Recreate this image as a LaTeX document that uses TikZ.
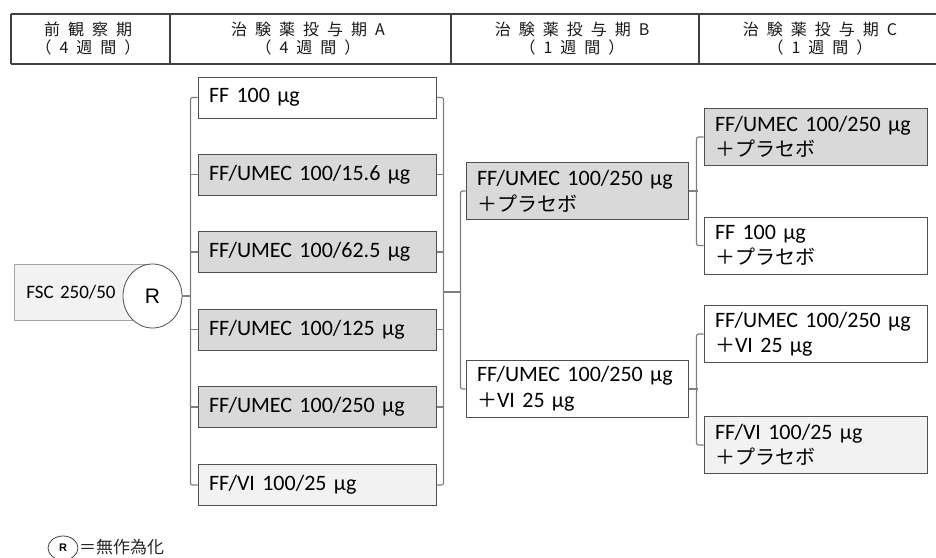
\documentclass[tikz,border=0pt]{standalone}
\usepackage{fontspec}
\usetikzlibrary{shapes.geometric}
\setmainfont{Carlito}
\newfontfamily\cjk{Noto Sans CJK JP}
\newfontfamily\arialf{Liberation Sans}
\newcommand\hsp{\hspace{8pt}}
\definecolor{darkfill}{HTML}{D9D9D9}
\definecolor{lightfill}{HTML}{F2F2F2}
\definecolor{boxline}{HTML}{505050}
\definecolor{brline}{HTML}{7F7F7F}
\definecolor{hline}{HTML}{404040}
\begin{document}
\begin{tikzpicture}[x=1pt,y=-1pt,
  htext/.style={align=center,font=\cjk\fontsize{16}{18}\selectfont,text=black!90,inner sep=0},
  abox/.style={draw=boxline,line width=1pt,minimum width=238pt,minimum height=41pt,text width=216pt,inner xsep=11pt,inner ysep=0pt,align=left,font=\fontsize{22}{26}\selectfont},
  bbox/.style={draw=boxline,line width=1pt,minimum width=222pt,minimum height=57pt,text width=200pt,inner xsep=11pt,inner ysep=0pt,align=left,font=\fontsize{22}{26}\selectfont},
  cbox/.style={draw=boxline,line width=1pt,minimum width=223pt,minimum height=57pt,text width=201pt,inner xsep=11pt,inner ysep=0pt,align=left,font=\fontsize{22}{25}\selectfont},
  br/.style={draw=brline,line width=1.2pt,rounded corners=2pt}]
\useasboundingbox (0,0) rectangle (936,557);
% header
\draw[hline,line width=1.5pt] (11,14) -- (936,14);
\draw[hline,line width=1.5pt] (11,64) -- (936,64);
\draw[hline,line width=1.2pt] (11,14) -- (11,64);
\draw[hline,line width=1.2pt] (170,14) -- (170,64);
\draw[hline,line width=1.2pt] (451,14) -- (451,64);
\draw[hline,line width=1.2pt] (699,14) -- (699,64);
\node[htext] (h1) at (88,39) {前\hsp 観\hsp 察\hsp 期\\（\hsp 4\hsp 週\hsp 間\hsp ）};
\node[htext] (h2) at (308,39) {治\hsp 験\hsp 薬\hsp 投\hsp 与\hsp 期\hsp A\\（\hsp 4\hsp 週\hsp 間\hsp ）};
\node[htext] (h3) at (572,39) {治\hsp 験\hsp 薬\hsp 投\hsp 与\hsp 期\hsp B\\（\hsp 1\hsp 週\hsp 間\hsp ）};
\node[htext] (h4) at (820,39) {治\hsp 験\hsp 薬\hsp 投\hsp 与\hsp 期\hsp C\\（\hsp 1\hsp 週\hsp 間\hsp ）};
% start
\node[draw=brline!70,fill=lightfill,line width=0.8pt,minimum width=136pt,minimum height=56pt,anchor=west,text width=114pt,inner xsep=12pt,align=left,font=\fontsize{19}{22}\selectfont] (fsc) at (14,292) {FSC 250/50};
\node[draw=boxline,fill=white,ellipse,line width=0.8pt,minimum width=59pt,minimum height=64pt,inner sep=0,font=\arialf\fontsize{21}{24}\selectfont] (r) at (152.5,296) {R};
% column A
\node[abox,fill=white] (a1) at (317,97.5) {FF 100 µg};
\node[abox,fill=darkfill] (a2) at (317,174.5) {FF/UMEC 100/15.6 µg};
\node[abox,fill=darkfill] (a3) at (317,252) {FF/UMEC 100/62.5 µg};
\node[abox,fill=darkfill] (a4) at (317,329.5) {FF/UMEC 100/125 µg};
\node[abox,fill=darkfill] (a5) at (317,407) {FF/UMEC 100/250 µg};
\node[abox,fill=lightfill] (a6) at (317,485) {FF/VI 100/25 µg};
% column B
\node[bbox,fill=darkfill] (b1) at (577,191) {FF/UMEC 100/250 µg\\{\cjk\fontsize{20}{26}\selectfont ＋プラセボ}};
\node[bbox,fill=white] (b2) at (577,389) {FF/UMEC 100/250 µg\\{\cjk\fontsize{20}{26}\selectfont ＋}VI 25 µg};
% column C
\node[cbox,fill=darkfill] (c1) at (815.5,137) {FF/UMEC 100/250 µg\\{\cjk\fontsize{20}{25}\selectfont ＋プラセボ}};
\node[cbox,fill=white] (c2) at (815.5,245.5) {FF 100 µg\\{\cjk\fontsize{20}{25}\selectfont ＋プラセボ}};
\node[cbox,fill=white] (c3) at (815.5,334) {FF/UMEC 100/250 µg\\{\cjk\fontsize{20}{25}\selectfont ＋}VI 25 µg};
\node[cbox,fill=lightfill] (c4) at (815.5,445) {FF/VI 100/25 µg\\{\cjk\fontsize{20}{25}\selectfont ＋プラセボ}};
% brackets A
\draw[br] (r.east) -- ++(9,0) coordinate (rl);
\draw[br] (a1.west) -- ++(-7,0) |- (a6.west);
\foreach \n in {a2,a3,a4,a5} \draw[br] (\n.west) -- ++(-7,0);
\draw[br] (a1.east) -- ++(7,0) |- (a6.east);
\foreach \n in {a2,a3,a4,a5} \draw[br] (\n.east) -- ++(7,0);
\coordinate (am) at (443,292);
\coordinate (bm) at (461,292);
\draw[br] (am) -- (bm);
% brackets B
\draw[br] (b1.west) -- ++(-5,0) |- (b2.west);
\draw[br] (b1.east) -- ++(9,0) coordinate (b1r);
\draw[br] (b2.east) -- ++(9,0) coordinate (b2r);
% brackets C
\draw[br] (c1.west) -- ++(-7,0) |- (c2.west);
\draw[br] (c3.west) -- ++(-7,0) |- (c4.west);
% footer
\node[draw=hline,ellipse,line width=0.8pt,minimum width=30pt,minimum height=24pt,inner sep=0,font=\arialf\bfseries\fontsize{11}{13}\selectfont] (rk) at (63,548) {R};
\node[anchor=west,inner sep=0,font=\cjk\fontsize{17}{20}\selectfont,text=black!85] (rt) at (79,547) {＝無作為化};
\end{tikzpicture}
\end{document}
